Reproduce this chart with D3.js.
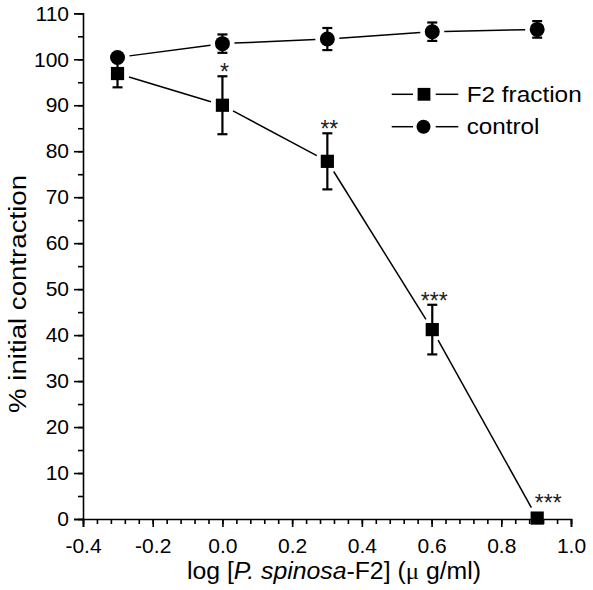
<!DOCTYPE html>
<html><head><meta charset="utf-8">
<script src="https://cdn.jsdelivr.net/npm/d3@7"></script>
<style>body{margin:0;background:#fff}svg{display:block}text{font-family:"Liberation Sans",Arial,sans-serif}</style>
</head><body>
<svg id="c" width="593" height="590"></svg>
<script>
const logDose = [-0.301, 0.0, 0.301, 0.602, 0.903];
const f2Mean = [96.9, 90.0, 77.8, 41.2, 0.2];
const f2Err = [3.0, 6.3, 6.1, 5.4, 0.0];
const f2Sig = ["", "*", "**", "***", "***"];
const ctrlMean = [100.4, 103.4, 104.4, 106.0, 106.5];
const ctrlErr = [0.9, 2.0, 2.4, 2.0, 1.8];
const xTicks = [-0.4, -0.2, 0.0, 0.2, 0.4, 0.6, 0.8, 1.0];
const yTicks = [0, 10, 20, 30, 40, 50, 60, 70, 80, 90, 100, 110];
const seriesNames = ["F2 fraction", "control"];

const svg = d3.select("#c");
const x = d3.scaleLinear().domain([-0.4, 1.0]).range([83, 571]);
const y = d3.scaleLinear().domain([0, 110]).range([519, 13.3]);
const fmtX = v => d3.format(".1f")(v).replace("\u2212", "-");

// axes
const xMinor = d3.range(-0.4, 1.0001, 0.04).map(v => +v.toFixed(2));
const yMinor = d3.range(0, 110.001, 5);
svg.append("g").attr("transform", `translate(0,${y(0)})`)
  .call(d3.axisBottom(x).tickValues(xMinor).tickSize(5).tickFormat(""))
  .call(g => g.select(".domain").remove());
svg.append("g").attr("transform", `translate(0,${y(0)})`)
  .call(d3.axisBottom(x).tickValues(xTicks).tickSize(8).tickPadding(11).tickFormat(fmtX));
svg.append("g").attr("transform", `translate(${x(-0.4)},0)`)
  .call(d3.axisLeft(y).tickValues(yMinor).tickSize(5).tickFormat(""))
  .call(g => g.select(".domain").remove());
svg.append("g").attr("transform", `translate(${x(-0.4)},0)`)
  .call(d3.axisLeft(y).tickValues(yTicks).tickSize(9).tickPadding(5));
svg.selectAll(".domain").attr("stroke", "#000").attr("stroke-width", 1.6);
svg.selectAll(".tick line").attr("stroke", "#000").attr("stroke-width", 1.6);
svg.selectAll(".tick text").attr("font-size", 21).attr("fill", "#000")
  .attr("font-family", '"Liberation Sans",Arial,sans-serif');

// axis titles
svg.append("text").attr("x", 187).attr("y", 579)
  .attr("font-size", 23).attr("fill", "#000")
  .attr("textLength", 294).attr("lengthAdjust", "spacingAndGlyphs")
  .call(t => {
    t.append("tspan").text("log [");
    t.append("tspan").attr("font-style", "italic").text("P. spinosa");
    t.append("tspan").text("-F2] (");
    t.append("tspan").attr("font-family", '"Liberation Serif","DejaVu Serif",serif').text("\u03bc");
    t.append("tspan").text(" g/ml)");
  });
svg.append("text").attr("transform", "translate(26,413) rotate(-90)")
  .attr("font-size", 23).attr("fill", "#000")
  .attr("textLength", 238).attr("lengthAdjust", "spacingAndGlyphs")
  .text("% initial contraction");

// connecting lines with gaps near markers
function gapLine(xs, ys, gap) {
  for (let i = 0; i < xs.length - 1; i++) {
    const x1 = x(xs[i]), y1 = y(ys[i]), x2 = x(xs[i + 1]), y2 = y(ys[i + 1]);
    const dx = x2 - x1, dy = y2 - y1, L = Math.hypot(dx, dy);
    const ux = dx / L, uy = dy / L;
    svg.append("line")
      .attr("x1", x1 + ux * gap).attr("y1", y1 + uy * gap)
      .attr("x2", x2 - ux * gap).attr("y2", y2 - uy * gap)
      .attr("stroke", "#000").attr("stroke-width", 1.5);
  }
}
gapLine(logDose, f2Mean, 12);
gapLine(logDose, ctrlMean, 12);

// error bars
function errBars(means, errs) {
  const g = svg.append("g").attr("stroke", "#000").attr("stroke-width", 2.2);
  means.forEach((m, i) => {
    if (errs[i] <= 0) return;
    const cx = x(logDose[i]);
    g.append("line").attr("x1", cx).attr("x2", cx).attr("y1", y(m - errs[i])).attr("y2", y(m + errs[i]));
    [m - errs[i], m + errs[i]].forEach(v => {
      g.append("line").attr("x1", cx - 5).attr("x2", cx + 5).attr("y1", y(v)).attr("y2", y(v));
    });
  });
}
errBars(f2Mean, f2Err);
errBars(ctrlMean, ctrlErr);

// markers
svg.append("g").selectAll("rect").data(logDose).join("rect")
  .attr("x", (d) => x(d) - 6.6).attr("y", (d, i) => y(f2Mean[i]) - 6.6)
  .attr("width", 13.2).attr("height", 13.2).attr("fill", "#000");
svg.append("g").selectAll("circle").data(logDose).join("circle")
  .attr("cx", d => x(d)).attr("cy", (d, i) => y(ctrlMean[i])).attr("r", 7.5).attr("fill", "#000");

// significance stars
svg.append("g").selectAll("text").data(logDose).join("text")
  .attr("x", (d, i) => x(d) + (f2Err[i] > 0 ? 2 : 11))
  .attr("y", (d, i) => f2Err[i] > 0 ? y(f2Mean[i] + f2Err[i]) + 4 : y(f2Mean[i]) - 7)
  .attr("text-anchor", "middle").attr("font-size", 23).attr("fill", "#222")
  .text((d, i) => f2Sig[i]);

// legend
const leg = svg.append("g");
const legW = [115, 72.7];
[94.3, 126.7].forEach((cy, k) => {
  leg.append("line").attr("x1", 391.7).attr("x2", 413).attr("y1", cy).attr("y2", cy).attr("stroke", "#000").attr("stroke-width", 1.5);
  leg.append("line").attr("x1", 435.7).attr("x2", 458.3).attr("y1", cy).attr("y2", cy).attr("stroke", "#000").attr("stroke-width", 1.5);
  if (k === 0) leg.append("rect").attr("x", 424 - 6.4).attr("y", cy - 6.4).attr("width", 12.8).attr("height", 12.8).attr("fill", "#000");
  else leg.append("circle").attr("cx", 423.5).attr("cy", cy).attr("r", 7).attr("fill", "#000");
  leg.append("text").attr("x", 466.7).attr("y", cy + 7.5).attr("font-size", 22).attr("fill", "#000")
    .attr("textLength", legW[k]).attr("lengthAdjust", "spacingAndGlyphs").text(seriesNames[k]);
});
</script>
</body></html>
